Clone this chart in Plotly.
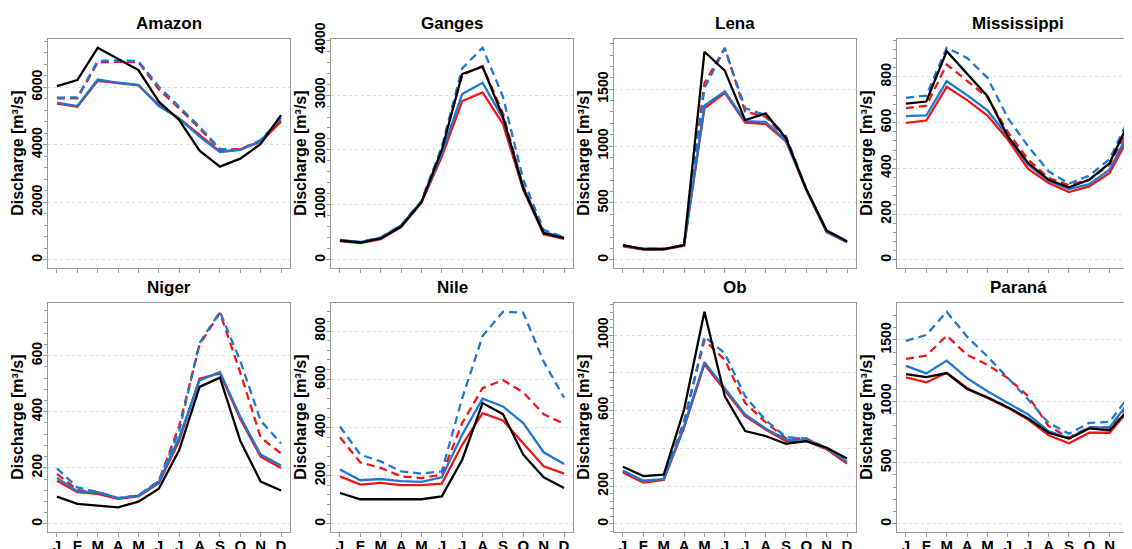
import plotly.graph_objects as go

MONTHS = ["J", "F", "M", "A", "M", "J", "J", "A", "S", "O", "N", "D"]
RIVERS = ["Amazon", "Ganges", "Lena", "Mississippi", "Niger", "Nile", "Ob", "Paraná"]

# series per river: observed (black), red solid, blue solid, red dashed, blue dashed
OBS = {
    "Amazon": [6045, 6253, 7377, 6983, 6600, 5500, 4864, 3800, 3242, 3520, 4030, 5037],
    "Ganges": [351, 315, 388, 606, 1048, 2000, 3382, 3515, 2606, 1303, 485, 394],
    "Lena": [130, 95, 95, 130, 1829, 1663, 1228, 1287, 1071, 621, 257, 163],
    "Mississippi": [683, 692, 912, 815, 715, 540, 423, 350, 317, 350, 423, 613],
    "Niger": [97, 71, 65, 59, 79, 125, 263, 489, 522, 296, 151, 119],
    "Nile": [128, 102, 102, 102, 102, 114, 266, 501, 455, 287, 193, 149],
    "Ob": [302, 253, 260, 605, 1123, 675, 491, 465, 424, 438, 403, 346],
    "Paraná": [1222, 1197, 1230, 1100, 1032, 951, 859, 743, 695, 778, 762, 946],
}
RED_SOLID = {
    "Amazon": [5431, 5327, 6230, 6137, 6068, 5385, 4922, 4343, 3764, 3845, 4111, 4806],
    "Ganges": [340, 303, 376, 594, 1042, 1879, 2891, 3048, 2473, 1273, 467, 382],
    "Lena": [118, 89, 89, 124, 1332, 1468, 1207, 1195, 1042, 615, 243, 154],
    "Mississippi": [599, 609, 756, 698, 631, 526, 397, 336, 296, 321, 380, 547],
    "Niger": [154, 113, 107, 89, 98, 145, 296, 518, 537, 374, 240, 199],
    "Nile": [197, 163, 170, 161, 161, 167, 328, 459, 429, 335, 239, 208],
    "Ob": [272, 219, 232, 509, 845, 710, 570, 500, 438, 438, 395, 319],
    "Paraná": [1195, 1154, 1232, 1108, 1027, 946, 851, 722, 657, 743, 743, 941],
}
BLUE_SOLID = {
    "Amazon": [5466, 5350, 6276, 6160, 6091, 5350, 4922, 4285, 3752, 3821, 4146, 4945],
    "Ganges": [358, 321, 400, 624, 1060, 1939, 3018, 3224, 2576, 1303, 503, 406],
    "Lena": [124, 95, 95, 130, 1355, 1480, 1219, 1213, 1050, 621, 246, 157],
    "Mississippi": [628, 631, 781, 720, 653, 540, 416, 346, 309, 331, 394, 569],
    "Niger": [164, 116, 113, 92, 101, 148, 308, 512, 542, 382, 247, 208],
    "Nile": [225, 181, 186, 177, 174, 193, 370, 519, 487, 418, 297, 248],
    "Ob": [281, 228, 237, 517, 856, 719, 579, 505, 447, 442, 400, 328],
    "Paraná": [1289, 1227, 1332, 1189, 1081, 986, 892, 757, 697, 784, 789, 1005],
}
RED_DASHED = {
    "Amazon": [5616, 5616, 6867, 6890, 6879, 5929, 5269, 4574, 3821, 3856, 4134, 4887],
    "Ganges": [351, 315, 388, 606, 1060, 2030, 3363, 3527, 2666, 1333, 503, 406],
    "Lena": [124, 95, 95, 130, 1553, 1864, 1302, 1258, 1065, 615, 246, 157],
    "Mississippi": [663, 674, 854, 781, 711, 558, 438, 358, 326, 350, 416, 591],
    "Niger": [178, 121, 111, 91, 101, 152, 350, 640, 753, 540, 308, 251],
    "Nile": [359, 255, 232, 197, 190, 204, 418, 563, 597, 545, 455, 415],
    "Ob": [276, 223, 234, 544, 973, 868, 640, 538, 452, 452, 400, 324],
    "Paraná": [1346, 1373, 1535, 1378, 1297, 1189, 1041, 797, 703, 789, 784, 990],
}
BLUE_DASHED = {
    "Amazon": [5640, 5651, 6913, 6936, 6913, 6022, 5327, 4632, 3856, 3821, 4169, 4922],
    "Ganges": [364, 327, 406, 630, 1073, 2060, 3485, 3860, 2970, 1454, 545, 412],
    "Lena": [124, 95, 95, 130, 1509, 1858, 1332, 1272, 1089, 621, 252, 160],
    "Mississippi": [708, 718, 927, 883, 796, 620, 496, 387, 333, 368, 441, 628],
    "Niger": [198, 130, 114, 92, 101, 154, 332, 646, 757, 581, 368, 287],
    "Nile": [404, 287, 259, 218, 208, 218, 521, 779, 880, 876, 673, 524],
    "Ob": [281, 228, 237, 535, 991, 903, 675, 549, 460, 451, 403, 333],
    "Paraná": [1492, 1541, 1730, 1527, 1365, 1189, 1014, 824, 735, 824, 832, 1054],
}

# y tick values and labels per river (blank label = gridline only)
Y_TICKVALS = {
    "Amazon": [0, 2000, 4000, 6000],
    "Ganges": [0, 1000, 2000, 3000, 4000],
    "Lena": [0, 500, 1000, 1500],
    "Mississippi": [0, 200, 400, 600, 800],
    "Niger": [0, 200, 400, 600],
    "Nile": [0, 200, 400, 600, 800],
    "Ob": [0, 200, 400, 600, 800, 1000],
    "Paraná": [0, 500, 1000, 1500],
}
Y_TICKTEXT = {
    "Ob": ["0", "200", "", "600", "", "1000"],
}

RED = "#F21515"
BLUE = "#1F77D0"
BLACK = "#000000"
FONT = "Liberation Sans, Arial, sans-serif"
AXIS_GRAY = "#9a9a9a"

# the page body has an 8px margin: the figure is drawn 8px in from the top-left
OFF = 8
VIEW_W, VIEW_H = 1132, 549
W, H = VIEW_W - OFF, VIEW_H - OFF
COL_LEFT = [48 - OFF, 331 - OFF, 614 - OFF, 897 - OFF]
PANEL_W = 242
ROW_TOP = [39.3 - OFF, 303.3 - OFF]
PANEL_H = 229.0

fig = go.Figure()
x = list(range(12))

series = [
    (RED_DASHED, RED, "8px,5px"),
    (BLUE_DASHED, BLUE, "8px,5px"),
    (RED_SOLID, RED, "solid"),
    (BLUE_SOLID, BLUE, "solid"),
    (OBS, BLACK, "solid"),
]

annotations = []
for i, river in enumerate(RIVERS):
    r, c = divmod(i, 4)
    ax = "" if i == 0 else str(i + 1)
    left = COL_LEFT[c]
    right = min(left + PANEL_W, W)
    top = ROW_TOP[r]
    bottom = top + PANEL_H
    # x range: R-style 4% padding, keep same pixel scale for cropped last column
    pad = 0.04 * 11
    span_full = 11 + 2 * pad
    span = span_full * (right - left) / PANEL_W
    xr = [-pad, -pad + span]

    for data, color, dash in series:
        fig.add_trace(go.Scatter(
            x=x, y=data[river], mode="lines",
            line=dict(color=color, width=2.3, dash=dash),
            xaxis="x" + ax, yaxis="y" + ax, showlegend=False,
            hoverinfo="skip",
        ))

    ymax = max(max(d[river]) for d, _, _ in series)
    yr = [-0.04 * ymax, 1.04 * ymax]
    tv = Y_TICKVALS[river]
    tt = Y_TICKTEXT.get(river, [str(v) for v in tv])
    major = tv[1] - tv[0]

    fig.layout["xaxis" + ax] = dict(
        domain=[left / W, right / W], anchor="y" + ax, range=xr,
        automargin=False,
        tickmode="array", tickvals=x, ticktext=MONTHS,
        showticklabels=(r == 1), ticks="outside", ticklen=4, tickcolor=AXIS_GRAY,
        ticklabelstandoff=-4,
        showline=True, linecolor=AXIS_GRAY, linewidth=1.3, mirror=True,
        showgrid=False, zeroline=False, fixedrange=True,
        tickfont=dict(family=FONT, size=15, color="black", weight="bold"),
    )
    fig.layout["yaxis" + ax] = dict(
        domain=[1 - bottom / H, 1 - top / H], anchor="x" + ax, range=yr,
        automargin=False,
        tickmode="array", tickvals=tv, ticktext=tt, tickangle=-90,
        ticklabelstandoff=-5,
        ticks="outside", ticklen=4, tickcolor=AXIS_GRAY,
        minor=dict(ticks="outside", ticklen=2.5, tickcolor=AXIS_GRAY,
                   tickmode="linear", tick0=0, dtick=major / 5, showgrid=False),
        showline=True, linecolor=AXIS_GRAY, linewidth=1.3, mirror=True,
        showgrid=True, gridcolor="#dedede", griddash="dot", gridwidth=1,
        zeroline=False, fixedrange=True,
        tickfont=dict(family=FONT, size=14, color="black", weight="bold"),
    )

    annotations.append(dict(
        text=river, xref="paper", yref="paper",
        x=(left + PANEL_W / 2) / W, y=1 - (top - 16) / H,
        xanchor="center", yanchor="middle", showarrow=False,
        font=dict(family=FONT, size=17, color="black", weight="bold"),
    ))
    annotations.append(dict(
        text="Discharge [m³/s]", xref="paper", yref="paper",
        x=(left - 30) / W, y=1 - (top + PANEL_H / 2) / H,
        xanchor="center", yanchor="middle", textangle=-90, showarrow=False,
        font=dict(family=FONT, size=16, color="black", weight="bold"),
    ))

fig.update_layout(
    template="none",
    width=W, height=H, margin=dict(l=0, r=0, t=0, b=0, autoexpand=False),
    paper_bgcolor="white", plot_bgcolor="white",
    annotations=annotations, showlegend=False,
)

fig.write_html("out.html")
